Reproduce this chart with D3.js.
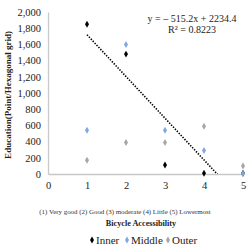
<!DOCTYPE html>
<html>
<head>
<meta charset="utf-8">
<script src="https://cdn.jsdelivr.net/npm/d3@7"></script>
<style>
  body { margin: 0; background: #fff; }
</style>
</head>
<body>
<svg id="chart" width="250" height="248"></svg>
<script>
const xTicks = [0, 1, 2, 3, 4, 5]
const yTicks = [0, 200, 400, 600, 800, 1000, 1200, 1400, 1600, 1800, 2000]
const accessibility = [1, 2, 3, 4, 5]
const inner = [1850, 1480, 110, 10, 10]
const middle = [540, 1600, 540, 290, 5]
const outer = [170, 390, 390, 590, 100]
const trendSlope = -515.2
const trendIntercept = 2234.4
const trendR2 = 0.8223

const series = [
  {name: "Inner", values: inner, color: "#000000"},
  {name: "Middle", values: middle, color: "#7fa7e1"},
  {name: "Outer", values: outer, color: "#a6a6a6"}
]

const serif = "'Liberation Serif', 'Times New Roman', Times, serif"

var svg = d3.select("#chart").style("font-family", serif)

var x = d3.scaleLinear().domain([0, 5]).range([48, 243])
var y = d3.scaleLinear().domain([0, 2000]).range([174, 12])

// axes
var yAxis = svg.append("g")
  .attr("transform", "translate(48,0)")
  .call(d3.axisLeft(y).tickValues(yTicks).tickSize(0).tickPadding(7).tickFormat(d3.format(",")))
yAxis.select(".domain").attr("stroke", "#c8c8c8").attr("stroke-width", 1.3)
yAxis.selectAll("text").style("font-family", serif).attr("font-size", "10.5px").attr("fill", "#222")

var xAxis = svg.append("g")
  .attr("transform", "translate(0,174)")
  .call(d3.axisBottom(x).tickValues(xTicks).tickSize(0).tickPadding(8).tickFormat(d3.format("d")))
xAxis.select(".domain").attr("stroke", "#c8c8c8").attr("stroke-width", 1.3)
xAxis.selectAll("text").style("font-family", serif).attr("font-size", "10.5px").attr("fill", "#222")

// markers
var diamond = d3.symbol().type(d3.symbolDiamond).size(14)
series.forEach(function(s) {
  svg.append("g").selectAll("path")
    .data(s.values)
    .enter().append("path")
    .attr("d", diamond)
    .attr("transform", (d, i) => "translate(" + x(accessibility[i]) + "," + y(d) + ")")
    .attr("fill", s.color)
})

// trendline (clipped at the axis)
svg.append("clipPath").attr("id", "plotClip")
  .append("rect").attr("x", 48).attr("y", 0).attr("width", 200).attr("height", 174)
var trendX = [d3.min(accessibility), d3.max(accessibility)]
svg.append("line")
  .attr("clip-path", "url(#plotClip)")
  .attr("x1", x(trendX[0])).attr("y1", y(trendSlope * trendX[0] + trendIntercept))
  .attr("x2", x(trendX[1])).attr("y2", y(trendSlope * trendX[1] + trendIntercept))
  .attr("stroke", "#000").attr("stroke-width", 1.6).attr("stroke-dasharray", "1.4,1.4")

svg.append("text").attr("x", 192).attr("y", 22).attr("text-anchor", "middle")
  .attr("font-size", "10px").attr("fill", "#222")
  .text("y = – " + Math.abs(trendSlope) + "x + " + trendIntercept)
svg.append("text").attr("x", 192).attr("y", 33).attr("text-anchor", "middle")
  .attr("font-size", "10px").attr("fill", "#222")
  .text("R² = " + trendR2)

// titles
svg.append("text").attr("x", 125).attr("y", 214).attr("text-anchor", "middle")
  .attr("font-size", "6.9px").attr("fill", "#333")
  .text("(1) Very good (2) Good (3) moderate (4) Little (5) Lowermost")
svg.append("text").attr("x", 141).attr("y", 226).attr("text-anchor", "middle")
  .attr("font-size", "8.2px").attr("font-weight", "bold").attr("fill", "#222")
  .text("Bicycle Accessibility")
svg.append("text")
  .attr("transform", "translate(11,95) rotate(-90)")
  .attr("text-anchor", "middle")
  .attr("font-size", "9px").attr("font-weight", "bold").attr("fill", "#222")
  .text("Education(Point/Hexagonal grid)")

// legend
var legendX = [92, 127, 168]
var legend = svg.append("g").selectAll("g")
  .data(series)
  .enter().append("g")
  .attr("transform", (d, i) => "translate(" + legendX[i] + ",240)")
legend.append("path").attr("d", diamond).attr("fill", d => d.color)
legend.append("text").attr("x", 4).attr("y", 4)
  .attr("font-size", "11px").attr("fill", "#222")
  .text(d => d.name)
</script>
</body>
</html>
